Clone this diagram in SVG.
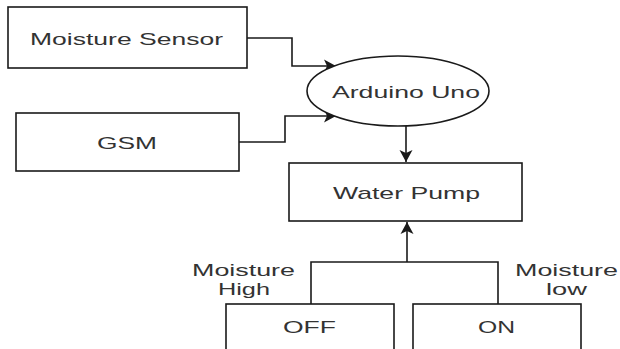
<svg xmlns="http://www.w3.org/2000/svg" width="620" height="349" viewBox="0 0 620 349">
<style>
.box{fill:#fff;stroke:#1a1a1a;stroke-width:1.6}
.t{font-family:"Liberation Sans",Arial,sans-serif;font-size:17px;fill:#333;text-anchor:middle}
.c{fill:none;stroke:#1a1a1a;stroke-width:1.6}
</style>
<defs>
<marker id="ah" markerWidth="13" markerHeight="14" refX="12" refY="7" orient="auto" markerUnits="userSpaceOnUse">
<path d="M0,0.5 L12,7 L0,13.5 L3,7 Z" fill="#1a1a1a"/>
</marker>
</defs>
<rect width="620" height="349" fill="#fff"/>
<g id="connectors">
<path class="c" d="M247,38 H292 V66 H336" marker-end="url(#ah)"/>
<path class="c" d="M239,142 H285 V116 H336" marker-end="url(#ah)"/>
<path class="c" d="M406,126 V162" marker-end="url(#ah)"/>
<path class="c" d="M311,304 V262 H498 V304"/>
<path class="c" d="M407,262 V222" marker-end="url(#ah)"/>
</g>
<g id="moisture-sensor">
<rect class="box" x="8" y="7" width="239" height="61"/>
<text class="t" x="126.5" y="45" textLength="193" lengthAdjust="spacingAndGlyphs">Moisture Sensor</text>
</g>
<g id="gsm">
<rect class="box" x="16" y="113" width="223" height="58"/>
<text class="t" x="127" y="149" textLength="60" lengthAdjust="spacingAndGlyphs">GSM</text>
</g>
<g id="arduino">
<ellipse class="box" cx="398" cy="91" rx="91" ry="35"/>
<text class="t" x="406" y="98" textLength="148" lengthAdjust="spacingAndGlyphs">Arduino Uno</text>
</g>
<g id="water-pump">
<rect class="box" x="289" y="163" width="233" height="58"/>
<text class="t" x="406.5" y="199" textLength="147" lengthAdjust="spacingAndGlyphs">Water Pump</text>
</g>
<g id="off">
<rect class="box" x="226" y="304" width="168" height="60"/>
<text class="t" x="309.5" y="333" textLength="53" lengthAdjust="spacingAndGlyphs">OFF</text>
</g>
<g id="on">
<rect class="box" x="413" y="304" width="168" height="60"/>
<text class="t" x="496.5" y="333" textLength="37" lengthAdjust="spacingAndGlyphs">ON</text>
</g>
<g id="label-high">
<text class="t" x="243.5" y="276" textLength="103" lengthAdjust="spacingAndGlyphs">Moisture</text>
<text class="t" x="244" y="295" textLength="52" lengthAdjust="spacingAndGlyphs">High</text>
</g>
<g id="label-low">
<text class="t" x="566.5" y="276" textLength="103" lengthAdjust="spacingAndGlyphs">Moisture</text>
<text class="t" x="566.5" y="295" textLength="41" lengthAdjust="spacingAndGlyphs">low</text>
</g>
</svg>
